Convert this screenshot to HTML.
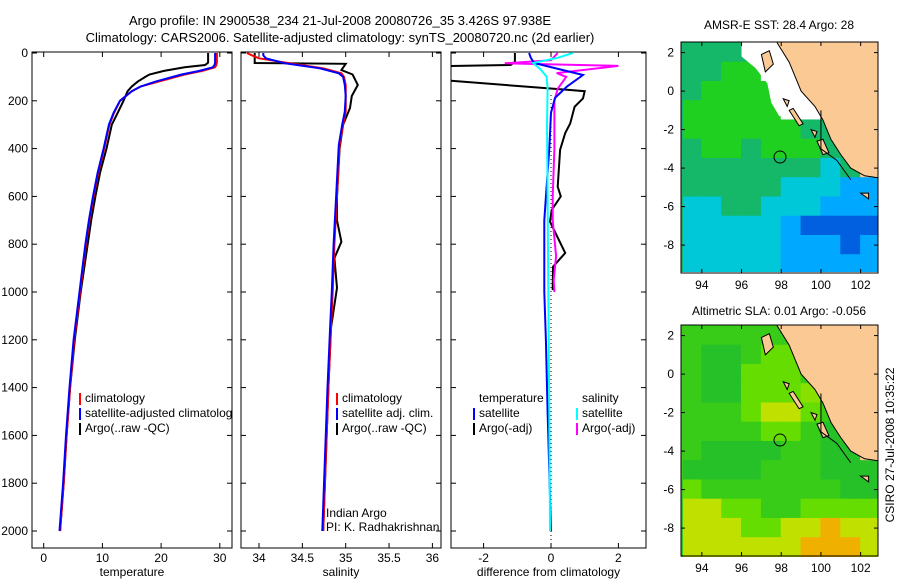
<!DOCTYPE html>
<html><head><meta charset="utf-8"><style>
body{margin:0;background:#fff}
svg{display:block;font-family:"Liberation Sans",sans-serif}
text{font-size:12px;fill:#000}
</style></head><body>
<svg id="c" width="900" height="580" viewBox="0 0 900 580">
<defs>
<clipPath id="cp1"><rect x="32" y="52" width="200" height="496"/></clipPath>
<clipPath id="cp2"><rect x="241" y="52" width="200" height="496"/></clipPath>
<clipPath id="cp3"><rect x="451" y="52" width="195" height="496"/></clipPath>
<clipPath id="cm1"><rect x="681" y="42" width="197" height="230"/></clipPath>
<clipPath id="cm2"><rect x="681" y="325" width="197" height="232"/></clipPath>
</defs>
<text x="340" y="25" text-anchor="middle" style="font-size:13px">Argo profile: IN 2900538_234 21-Jul-2008 20080726_35 3.426S 97.938E</text>
<text x="340" y="42" text-anchor="middle" style="font-size:13px">Climatology: CARS2006. Satellite-adjusted climatology: synTS_20080720.nc (2d earlier)</text>
<g id="g"></g>
<text x="779" y="29" text-anchor="middle">AMSR-E SST: 28.4 Argo: 28</text>
<text x="779" y="315" text-anchor="middle">Altimetric SLA: 0.01 Argo: -0.056</text>
<text transform="translate(894,445) rotate(-90)" text-anchor="middle">CSIRO 27-Jul-2008 10:35:22</text>
</svg>
<script>
// ---- profile data ----
const depthT=[0,20,40,50,60,75,90,100,120,140,160,200,250,300,400,500,600,700,800,900,1000,1200,1400,1600,1800,2000];
const tempClim=[29.5,29.5,29.5,29.4,29.2,27,24,22.5,19.5,16.5,15,13,12,11.2,10.3,9.3,8.5,7.8,7.2,6.7,6.2,5.2,4.5,3.9,3.4,2.8];
const tempSat=[29.2,29.2,29.2,29.1,28.8,26.5,23.5,22,19,16.5,15,13,11.9,11.1,10.2,9.2,8.4,7.7,7.1,6.6,6.1,5.1,4.4,3.8,3.3,2.7];
const tempArgo=[28,28,28,27.5,24,20.5,18,17.3,16,15,14.3,13.6,12.6,11.6,10.7,9.6,8.8,8.1,7.5,6.9,6.3,5.3,4.5,3.9,3.4,2.8];
const depthS=[0,10,22,43,64,85,100,134,180,245,300,385,594,800,1000,1150,1400,1700,2000];
const salClim=[33.86,33.92,34.0,34.36,34.74,34.95,34.98,35.0,35.0,35.0,34.97,34.93,34.9,34.87,34.85,34.83,34.8,34.77,34.74];
const salSat=[34.05,34.05,34.08,34.3,34.7,34.92,34.97,34.99,35.0,34.99,34.96,34.92,34.89,34.86,34.84,34.82,34.79,34.76,34.73];
const depthSA=[0,30,42,45,71,90,134,180,230,300,400,600,700,790,858,983,1150,1400,1700,2000];
const salArgo=[33.95,33.95,33.95,35.0,34.95,35.08,35.14,35.07,35.05,34.97,34.93,34.9,34.9,34.95,34.87,34.9,34.83,34.8,34.77,34.74];
const depthDTA=[0,38,50,57,60,100,105,155,160,190,225,295,335,405,560,600,657,706,837,894,992];
const diffTArgo=[-1.07,-1.07,-1.2,-4,-4,-4,-4,0.57,1.0,0.95,0.7,0.57,0.42,0.27,0.2,0.29,0.02,-0.03,0.42,0.06,0.05];
const depthDTS=[0,20,42,92,141,188,250,400,500,700,1000,1200,1500,2000];
const diffTSat=[-0.65,-0.6,-0.5,0.95,0.47,0.12,0,-0.05,-0.1,-0.2,-0.2,-0.15,-0.1,0];
const depthDSS=[0,20,42,70,99,150,300,600,1000,1500,2000];
const diffSSat=[0.65,0.2,-0.53,-0.3,-0.13,-0.1,-0.12,-0.1,-0.08,-0.05,-0.03];
const depthDSA=[0,30,43,54,84,100,150,200,400,600,700,850,950,1000];
const diffSArgo=[0.2,0,-1.37,2.0,0.17,0.45,0.2,0.1,0.1,0.05,0.05,0.15,0.08,0.1];
const depthTicks=[0,200,400,600,800,1000,1200,1400,1600,1800,2000];
const tempTicks=[0,10,20,30];
const salTicks=[34,34.5,35,35.5,36];
const diffTicks=[-2,0,2];
// ---- map grids (lon 93..103 cols, lat 2.5..-9.5 rows) ----
const sstRows=["gggggWWLLL","ggGGWWWLLL","gGGGGWWLLL","GGGGGWWLLL","GGGGGGggLL","gGGgGGGggL","gggggggcgL","gggggcccbb","ccggcccbbb","cccccbBBBB","cccccbbbBb","cccccbbbbb"];
const slaRows=["GGGGGGGLLL","GggGllGLLL","GgglllGGLL","GgglllIGLL","GGGlyylGGL","GGGGllGgGL","GggggGGggL","ggggGGGggg","lGGGGGGGgg","yyllGGllll","yyyllyyoyy","yyyyyyoooy"];
const sstColors={g:"#14b868",G:"#20d020",c:"#00c8d8",b:"#00a8ff",B:"#0060e0",W:"#ffffff",L:"#fbc994"};
const slaColors={G:"#38cc18",g:"#26c028",l:"#66dd00",I:"#88e000",y:"#c0e000",o:"#f0b000",L:"#fbc994"};
const mapLonTicks=[94,96,98,100,102];
const mapLatTicks=[2,0,-2,-4,-6,-8];
const floatLon=97.938, floatLat=-3.426;

const NS="http://www.w3.org/2000/svg";
const G=document.getElementById('g');
function el(t,a,p){const e=document.createElementNS(NS,t);for(const k in a)e.setAttribute(k,a[k]);(p||G).appendChild(e);return e;}
const yD=d=>53+d*0.239;
const xT=t=>43.7+t*5.87;
const xS=s=>259+(s-34)*86.7;
const xV=v=>551+v*33.7;

function panel(x0,w,xs,ticks,fmt,label,name,yl){
  const g=el('g',{});
  
  
  el('rect',{x:x0,y:52,width:w,height:496,fill:'none',stroke:'#000','stroke-width':1},g);
  ticks.forEach(t=>{const x=xs(t);
    el('line',{x1:x,x2:x,y1:52,y2:57,stroke:'#000'},g);
    el('line',{x1:x,x2:x,y1:548,y2:543,stroke:'#000'},g);
    const tx=el('text',{x:x,y:562,'text-anchor':'middle'},g);tx.textContent=fmt(t);
    
    
  });
  depthTicks.forEach(d=>{const y=yD(d);
    el('line',{x1:x0,x2:x0+5,y1:y,y2:y,stroke:'#000'},g);
    el('line',{x1:x0+w,x2:x0+w-5,y1:y,y2:y,stroke:'#000'},g);
    if(yl){const tx=el('text',{x:28,y:y+4,'text-anchor':'end'},g);tx.textContent=d;
      
      }
  });
  const lb=el('text',{x:x0+w/2,y:576,'text-anchor':'middle'},g);lb.textContent=label;
  
  
}
function line(ds,vs,xs,col,clip,name,sw){
  const p=ds.map((d,i)=>xs(vs[i]).toFixed(1)+','+yD(d).toFixed(1)).join(' ');
  const e=el('polyline',{points:p,fill:'none',stroke:col,'stroke-width':sw||2,'clip-path':'url(#'+clip+')'});
  
  
}
panel(32,200,xT,tempTicks,t=>t,'temperature','temperature-panel',true);
panel(241,200,xS,salTicks,t=>t,'salinity','salinity-panel',false);
panel(451,195,xV,diffTicks,t=>t,'difference from climatology','difference-panel',false);
el('line',{x1:xV(0),x2:xV(0),y1:95,y2:548,stroke:'#000','stroke-dasharray':'1,3'});

line(depthT,tempArgo,xT,'#000','cp1','temp-argo-line');
line(depthT,tempClim,xT,'#f00','cp1','temp-climatology-line');
line(depthT,tempSat,xT,'#00f','cp1','temp-satellite-line');
line(depthSA,salArgo,xS,'#000','cp2','sal-argo-line');
line(depthS,salClim,xS,'#f00','cp2','sal-climatology-line');
line(depthS,salSat,xS,'#00f','cp2','sal-satellite-line');
line(depthDTA,diffTArgo,xV,'#000','cp3','diff-temp-argo-line');
line(depthDSA,diffSArgo,xV,'#f0f','cp3','diff-sal-argo-line');
line(depthDTS,diffTSat,xV,'#00f','cp3','diff-temp-satellite-line');
line(depthDSS,diffSSat,xV,'#0ff','cp3','diff-sal-satellite-line');

function legend(x,y,items,clip,name){
  const g=el('g',{'clip-path':clip?'url(#'+clip+')':''});
  
  
  items.forEach((it,i)=>{const yy=y+i*15;
    if(it[0])el('line',{x1:x,x2:x,y1:yy-9,y2:yy+3,stroke:it[0],'stroke-width':2},g);
    const t=el('text',{x:x+5,y:yy},g);t.textContent=it[1];
    
    });
}
legend(80,402,[['#f00','climatology'],['#00f','satellite-adjusted climatology'],['#000','Argo(..raw -QC)']],'cp1','temp-legend');
legend(337,402,[['#f00','climatology'],['#00f','satellite adj. clim.'],['#000','Argo(..raw -QC)']],'cp2','sal-legend');
legend(474,402,[[null,' temperature'],['#00f','satellite'],['#000','Argo(-adj)']],null,'diff-temp-legend');
legend(577,402,[[null,' salinity'],['#0ff','satellite'],['#f0f','Argo(-adj)']],null,'diff-sal-legend');
let t1=el('text',{x:326,y:517});t1.textContent='Indian Argo';


let t2=el('text',{x:326,y:531});t2.textContent='PI: K. Radhakrishnan';



// ---- maps ----
function drawMap(top,latTop,rows,colors,clip,name,whiteRegion){
  const mx=lon=>681+(lon-92.95)*19.85;
  const my=lat=>top+(latTop-lat)*19.25;
  const g=el('g',{});
  
  
  const cg=el('g',{'clip-path':'url(#'+clip+')'},g);
  rows.forEach((r,i)=>{[...r].forEach((ch,j)=>{
    el('rect',{x:mx(93+j)-0.5,y:my(2.5-i)-0.5,width:21,height:20.3,fill:colors[ch]},cg);});});
  el('rect',{x:681,y:top,width:2,height:240,fill:colors[rows[5][0]]},cg);
  if(whiteRegion){
    const wp=[[96,3],[96,1.8],[96.7,1.2],[97.3,0.4],[97.5,-0.6],[97.9,-1.3],[99.3,-1.3],[100.1,-1.2],[99,1],[98,3]];
    el('polygon',{points:wp.map(p=>mx(p[0])+','+my(p[1])).join(' '),fill:'#fff'},cg);
  }
  const land=[[97.8,3],[97.8,2.5],[98.4,1.5],[98.8,0.5],[99.0,0],[99.7,-0.8],[100.1,-1.5],[100.5,-2.5],[101,-3.3],[101.5,-4],[102.2,-4.4],[103.2,-4.55],[103.2,3]];
  el('polygon',{points:land.map(p=>mx(p[0])+','+my(p[1])).join(' '),fill:'#fbc994',stroke:'#000','stroke-width':1},cg);
  const isl=[[[97,1.9],[97.4,2.1],[97.6,1.4],[97.2,1.0]],[[98.4,-1.0],[98.6,-0.9],[99.1,-1.7],[98.9,-1.8]],[[99.8,-2.6],[100.1,-2.5],[100.4,-3.2],[100.1,-3.3]],[[99.5,-2.0],[99.8,-2.1],[99.7,-2.4]],[[102,-5.3],[102.4,-5.3],[102.4,-5.6]],[[98.1,-0.4],[98.4,-0.5],[98.3,-0.8]]];
  isl.forEach(pl=>el('polygon',{points:pl.map(p=>mx(p[0])+','+my(p[1])).join(' '),fill:'#fbc994',stroke:'#000','stroke-width':1},cg));
  el('polyline',{points:[[100,-1],[100,-3],[100.8,-3.6],[101.5,-4.6]].map(p=>mx(p[0])+','+my(p[1])).join(' '),fill:'none',stroke:'#000'},cg);
  el('circle',{cx:mx(floatLon),cy:my(floatLat),r:6,fill:'none',stroke:'#000'},cg);
  el('rect',{x:681,y:top,width:197,height:231,fill:'none',stroke:'#000'},g);
  mapLonTicks.forEach(l=>{const x=mx(l);
    el('line',{x1:x,x2:x,y1:top,y2:top+4,stroke:'#000'},g);
    el('line',{x1:x,x2:x,y1:top+231,y2:top+227,stroke:'#000'},g);
    const t=el('text',{x:x,y:top+247,'text-anchor':'middle'},g);t.textContent=l;
    
    });
  mapLatTicks.forEach(l=>{const y=my(l);
    el('line',{x1:681,x2:685,y1:y,y2:y,stroke:'#000'},g);
    el('line',{x1:878,x2:874,y1:y,y2:y,stroke:'#000'},g);
    const t=el('text',{x:674,y:y+4,'text-anchor':'end'},g);t.textContent=l;
    
    });
}
drawMap(42,2.55,sstRows,sstColors,'cm1','sst-map',true);
drawMap(325,2.55,slaRows,slaColors,'cm2','sla-map',false);
</script>
</body></html>
